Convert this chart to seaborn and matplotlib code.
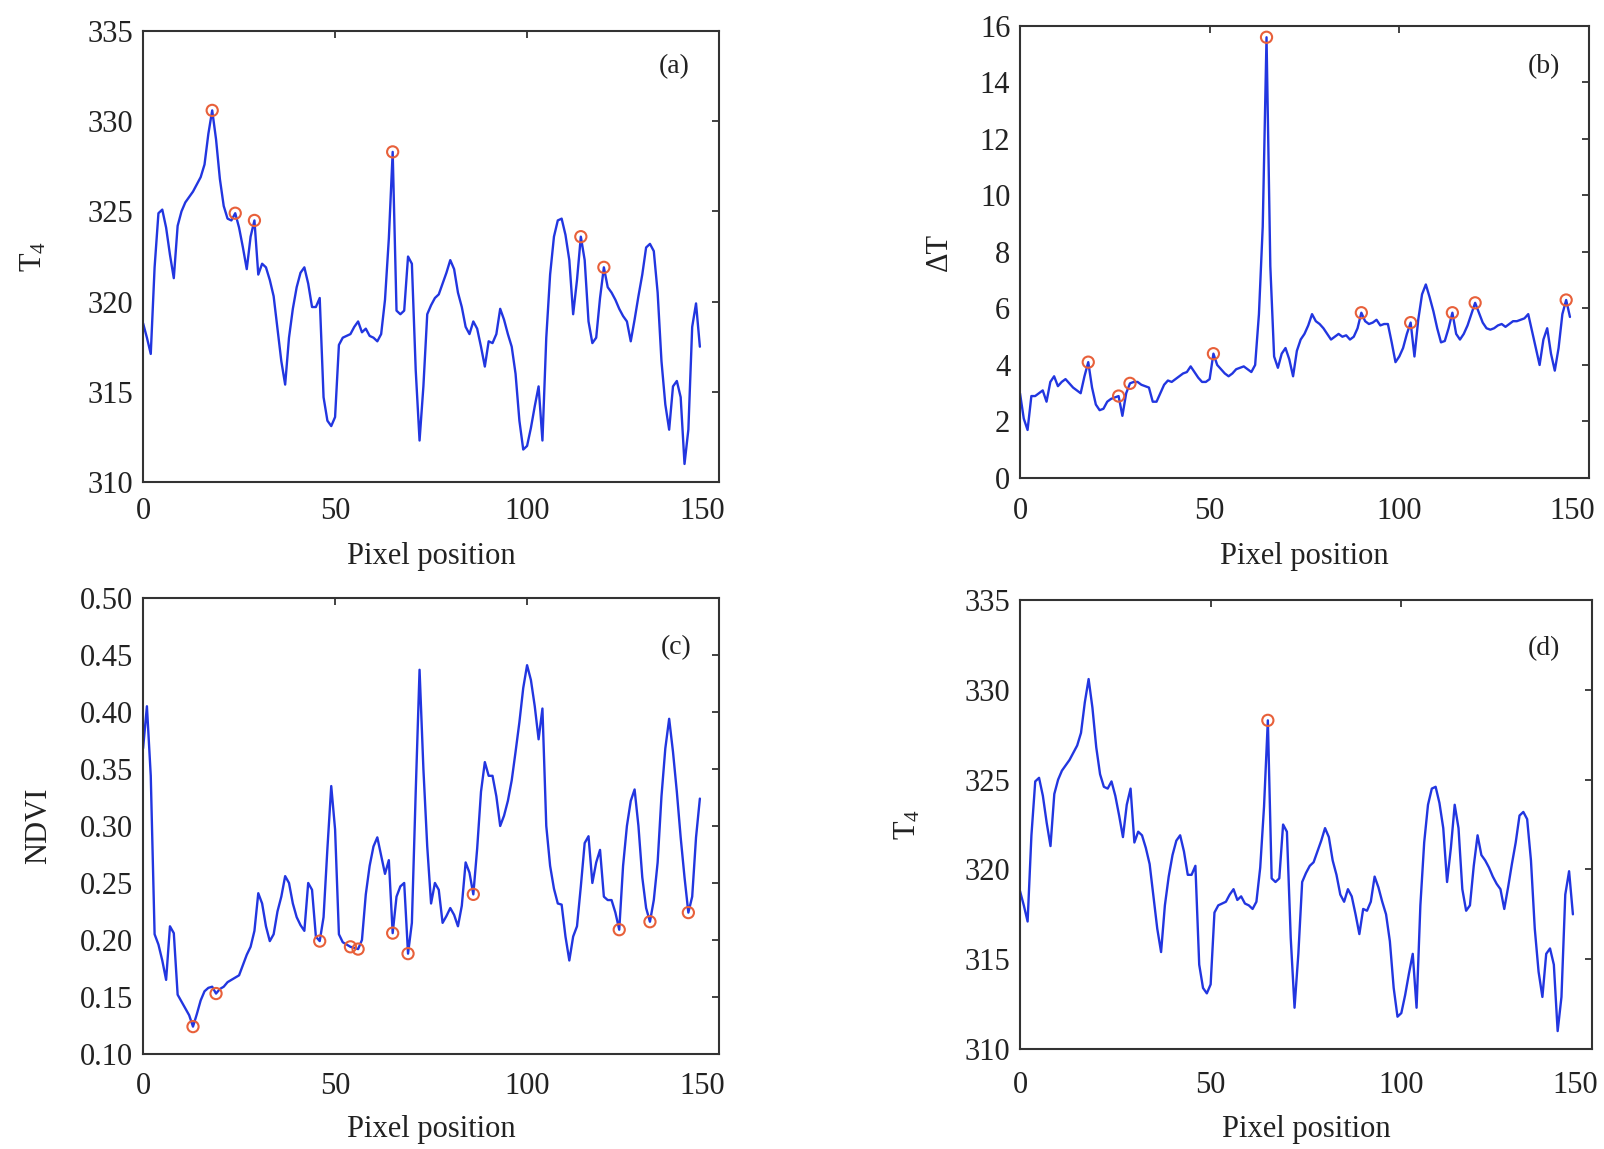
import numpy as np
import matplotlib
matplotlib.use("Agg")
import matplotlib.pyplot as plt
import matplotlib.transforms as mtransforms
import seaborn as sns

# values (one per pixel position)
pixel_pos = np.arange(146)

t4 = [318.8, 318.0, 317.1, 321.9, 324.9, 325.1, 324.1, 322.6, 321.3, 324.2,
      325.0, 325.5, 325.8, 326.1, 326.5, 326.9, 327.6, 329.3, 330.6, 329.0,
      326.8, 325.3, 324.6, 324.5, 324.9, 324.1, 323.0, 321.8, 323.6, 324.5,
      321.5, 322.1, 321.9, 321.2, 320.3, 318.5, 316.7, 315.4, 318.0, 319.6,
      320.8, 321.6, 321.9, 321.0, 319.7, 319.7, 320.2, 314.7, 313.4, 313.1,
      313.6, 317.6, 318.0, 318.1, 318.2, 318.6, 318.9, 318.3, 318.5, 318.1,
      318.0, 317.8, 318.2, 320.1, 323.5, 328.3, 319.5, 319.3, 319.5, 322.5,
      322.1, 316.2, 312.3, 315.3, 319.3, 319.8, 320.2, 320.4, 321.0, 321.6,
      322.3, 321.8, 320.5, 319.7, 318.6, 318.2, 318.9, 318.5, 317.5, 316.4,
      317.8, 317.7, 318.2, 319.6, 319.0, 318.2, 317.5, 316.0, 313.4, 311.8,
      312.0, 313.0, 314.2, 315.3, 312.3, 318.0, 321.5, 323.6, 324.5, 324.6,
      323.7, 322.3, 319.3, 321.2, 323.6, 322.3, 318.9, 317.7, 318.0, 320.2,
      321.9, 320.8, 320.5, 320.1, 319.6, 319.2, 318.9, 317.8, 319.0, 320.3,
      321.5, 323.0, 323.2, 322.8, 320.5, 316.7, 314.3, 312.9, 315.3, 315.6,
      314.7, 311.0, 312.9, 318.6, 319.9, 317.5]

delta_t = [3.0, 2.1, 1.7, 2.9, 2.9, 3.0, 3.1, 2.7, 3.4, 3.6,
           3.25, 3.4, 3.5, 3.35, 3.2, 3.1, 3.0, 3.6, 4.1, 3.2,
           2.6, 2.4, 2.45, 2.7, 2.8, 2.85, 2.9, 2.2, 3.0, 3.35,
           3.4, 3.4, 3.3, 3.25, 3.2, 2.7, 2.7, 3.0, 3.3, 3.45,
           3.4, 3.5, 3.6, 3.7, 3.75, 3.95, 3.75, 3.55, 3.4, 3.4,
           3.5, 4.4, 4.0, 3.85, 3.7, 3.6, 3.7, 3.85, 3.9, 3.95,
           3.85, 3.75, 4.0, 5.8, 8.9, 15.6, 7.5, 4.3, 3.9, 4.4,
           4.6, 4.2, 3.6, 4.5, 4.9, 5.1, 5.4, 5.8, 5.55, 5.45,
           5.3, 5.1, 4.9, 5.0, 5.1, 5.0, 5.05, 4.9, 5.0, 5.3,
           5.85, 5.55, 5.45, 5.5, 5.6, 5.4, 5.45, 5.45, 4.8, 4.1,
           4.3, 4.6, 5.1, 5.5, 4.3, 5.6, 6.5, 6.85, 6.4, 5.9,
           5.3, 4.8, 4.85, 5.3, 5.85, 5.1, 4.9, 5.1, 5.4, 5.8,
           6.2, 5.85, 5.5, 5.3, 5.25, 5.3, 5.4, 5.45, 5.35, 5.45,
           5.55, 5.55, 5.6, 5.65, 5.8, 5.2, 4.6, 4.0, 4.9, 5.3,
           4.4, 3.8, 4.6, 5.8, 6.3, 5.7]

ndvi = [0.368, 0.405, 0.344, 0.205, 0.196, 0.182, 0.165, 0.212, 0.206, 0.152,
        0.146, 0.140, 0.134, 0.124, 0.135, 0.147, 0.155, 0.158, 0.159, 0.153,
        0.157, 0.159, 0.163, 0.165, 0.167, 0.169, 0.178, 0.187, 0.194, 0.208,
        0.241, 0.232, 0.212, 0.199, 0.205, 0.225, 0.238, 0.256, 0.250, 0.232,
        0.220, 0.213, 0.208, 0.250, 0.244, 0.203, 0.199, 0.220, 0.280, 0.335,
        0.297, 0.205, 0.198, 0.196, 0.194, 0.193, 0.192, 0.200, 0.240, 0.265,
        0.282, 0.290, 0.274, 0.258, 0.270, 0.206, 0.238, 0.247, 0.250, 0.188,
        0.215, 0.330, 0.437, 0.350, 0.282, 0.232, 0.250, 0.244, 0.215, 0.221,
        0.228, 0.222, 0.212, 0.230, 0.268, 0.259, 0.240, 0.280, 0.330, 0.356,
        0.344, 0.344, 0.326, 0.300, 0.309, 0.322, 0.340, 0.365, 0.391, 0.421,
        0.441, 0.428, 0.405, 0.376, 0.403, 0.300, 0.265, 0.245, 0.232, 0.231,
        0.203, 0.182, 0.203, 0.212, 0.247, 0.285, 0.291, 0.250, 0.268, 0.279,
        0.238, 0.235, 0.235, 0.224, 0.209, 0.265, 0.300, 0.322, 0.332, 0.300,
        0.255, 0.228, 0.216, 0.235, 0.268, 0.326, 0.368, 0.394, 0.365, 0.330,
        0.290, 0.255, 0.224, 0.238, 0.290, 0.324]

# flagged pixel positions (red circles)
marks_a = [18, 24, 29, 65, 114, 120]
marks_b = [18, 26, 29, 51, 65, 90, 103, 114, 120, 144]
marks_c = [13, 19, 46, 54, 56, 65, 69, 86, 124, 132, 142]
marks_d = [65]

sns.set_theme(style="white")
plt.rcParams["font.family"] = ["Liberation Serif", "DejaVu Serif"]
plt.rcParams["mathtext.default"] = "regular"

line_color = "#2236e0"
mark_color = "#e8603a"
text_color = "#222222"

fig = plt.figure(figsize=(16.04, 11.49), dpi=100)

t4_ticks = [310, 315, 320, 325, 330, 335]
panels = [
    # position, series, marks, ylim, yticks, ylabel, ylabel_x, xlabel_y, xpad, tag, tag_xy
    ([0.0892, 0.5805, 0.3591, 0.3925], t4, marks_a, (310, 335), t4_ticks,
     r"T$_4$", -0.189, -0.165, 11, "(a)", (0.922, 0.921)),
    ([0.6359, 0.5840, 0.3547, 0.3934], delta_t, marks_b, (0, 16), list(range(0, 17, 2)),
     "ΔT", -0.142, -0.173, 14, "(b)", (0.921, 0.910)),
    ([0.0892, 0.0827, 0.3591, 0.3969], ndvi, marks_c, (0.10, 0.50),
     [0.10, 0.15, 0.20, 0.25, 0.30, 0.35, 0.40, 0.45, 0.50],
     "NDVI", -0.182, -0.165, 13, "(c)", (0.925, 0.891)),
    ([0.6359, 0.0870, 0.3566, 0.3908], t4, marks_d, (310, 335), t4_ticks,
     r"T$_4$", -0.196, -0.180, 16, "(d)", (0.916, 0.892)),
]

shift_left = mtransforms.ScaledTranslation(-12 / 72, 0, fig.dpi_scale_trans)

for pos, series, marks, ylim, yticks, ylabel, lab_x, lab_y, xpad, tag, tag_xy in panels:
    ax = fig.add_axes(pos)
    sns.lineplot(x=pixel_pos, y=series, ax=ax, color=line_color, lw=1.7)
    vals = np.asarray(series)
    sns.scatterplot(x=pixel_pos[marks], y=vals[marks], ax=ax, s=65, marker="o",
                    facecolor="none", edgecolor=mark_color, linewidth=1.5, zorder=3)
    ax.set_xlim(0, 150)
    ax.set_ylim(*ylim)
    ax.set_xticks([0, 50, 100, 150])
    ax.set_yticks(yticks)
    if ylim[1] < 1:
        ax.set_yticklabels([f"{v:.2f}" for v in yticks])
    ax.tick_params(direction="in", length=5, width=1.2, top=True, right=True,
                   labelsize=22, colors=text_color)
    ax.tick_params(axis="x", pad=xpad)
    ax.tick_params(axis="y", pad=7)
    # the last x label sits a little left of its tick in the original
    last = ax.get_xticklabels()[-1]
    last.set_transform(last.get_transform() + shift_left)
    for sp in ax.spines.values():
        sp.set_color("#333333")
        sp.set_linewidth(1.5)
    ax.set_xlabel("Pixel position", fontsize=22, color=text_color)
    ax.xaxis.set_label_coords(0.5, lab_y)
    ax.xaxis.label.set_va("center")
    ax.set_ylabel(ylabel, fontsize=22, color=text_color)
    ax.yaxis.set_label_coords(lab_x, 0.5)
    ax.yaxis.label.set_va("center")
    ax.text(tag_xy[0], tag_xy[1], tag, transform=ax.transAxes, fontsize=20,
            ha="center", va="center", color=text_color)

fig.savefig("out.png", dpi=100)
